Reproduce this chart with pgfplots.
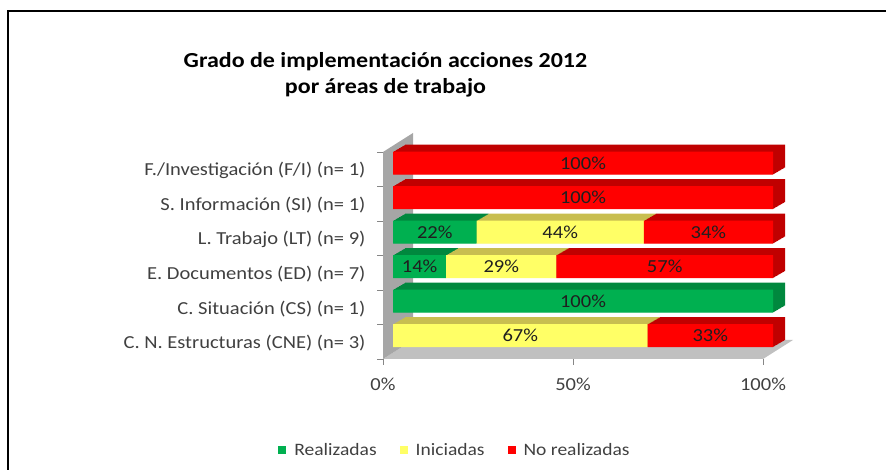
\documentclass[border=0pt]{standalone}
\usepackage{pgfplots}
\pgfplotsset{compat=1.18}
\usepackage{pgfplotstable}
\usepackage{fontspec}
\setmainfont{Carlito}[FakeStretch=1.12]
\definecolor{grn}{HTML}{00B050}
\definecolor{grntop}{HTML}{00883E}
\definecolor{ylw}{HTML}{FFFF66}
\definecolor{ylwtop}{HTML}{C8BE50}
\definecolor{rd}{HTML}{FF0000}
\definecolor{rdtop}{HTML}{C00000}
\definecolor{floorgray}{HTML}{C0C0C0}
\definecolor{wallgray}{HTML}{A6A6A6}
\definecolor{tickgray}{HTML}{868686}
\definecolor{labelgray}{HTML}{404040}
\tikzset{ext/.style={
preaction={fill=#1,transform canvas={shift={(12bp,7bp)}}},
preaction={fill=#1,transform canvas={shift={(11bp,6.417bp)}}},
preaction={fill=#1,transform canvas={shift={(10bp,5.833bp)}}},
preaction={fill=#1,transform canvas={shift={(9bp,5.25bp)}}},
preaction={fill=#1,transform canvas={shift={(8bp,4.667bp)}}},
preaction={fill=#1,transform canvas={shift={(7bp,4.083bp)}}},
preaction={fill=#1,transform canvas={shift={(6bp,3.5bp)}}},
preaction={fill=#1,transform canvas={shift={(5bp,2.917bp)}}},
preaction={fill=#1,transform canvas={shift={(4bp,2.333bp)}}},
preaction={fill=#1,transform canvas={shift={(3bp,1.75bp)}}},
preaction={fill=#1,transform canvas={shift={(2bp,1.167bp)}}},
preaction={fill=#1,transform canvas={shift={(1bp,0.583bp)}}}}}
\pgfplotsset{
leggrn/.style={legend image code/.code={\fill[grn,draw=none] (0bp,-4bp) rectangle (8bp,4bp);\path[draw=none,fill=none] (0bp,0bp) -- (14bp,0bp);}},
legylw/.style={legend image code/.code={\fill[ylw,draw=none] (0bp,-4bp) rectangle (8bp,4bp);\path[draw=none,fill=none] (0bp,0bp) -- (14bp,0bp);}},
legrd/.style={legend image code/.code={\fill[rd,draw=none] (0bp,-4bp) rectangle (8bp,4bp);\path[draw=none,fill=none] (0bp,0bp) -- (14bp,0bp);}}}
\pgfplotstableread{
idx g y r
0 0 67 33
1 100 0 0
2 14 29 57
3 22 44 34
4 0 0 100
5 0 0 100
}\datatable
\newcommand{\lblfont}{\fontsize{18.4}{21}\selectfont}
\newcommand{\legfont}{\fontsize{17.5}{20}\selectfont}
\begin{document}
\begin{tikzpicture}[x=1bp,y=1bp]
\useasboundingbox (0,0) rectangle (886,470);
\draw[line width=2.2bp] (7.7,-2) -- (7.7,459) -- (890,459);
\node[align=center,font=\bfseries\fontsize{21.5}{26}\selectfont] at (385.5,395) {Grado de implementación acciones 2012\\por áreas de trabajo};
\fill[floorgray] (383,111) -- (763,111) -- (793,130) -- (413,130) -- cycle;
\fill[wallgray] (383,111) -- (383,318) -- (413,337) -- (413,130) -- cycle;
\begin{axis}[at={(383bp,111bp)}, anchor=south west, scale only axis,
  width=380bp, height=207bp,
  xmin=0, xmax=100, ymin=-0.5, ymax=5.5,
  axis x line*=bottom, axis y line*=left, axis line style={draw=none},
  xtick={0,50,100}, xticklabels={0\%,50\%,100\%},
  ytick={-0.5,0.5,...,5.5}, yticklabels={,,,,,,},
  extra y ticks={0,1,2,3,4,5},
  extra y tick labels={C. N. Estructuras (CNE) (n= 3),C. Situación (CS) (n= 1),E. Documentos (ED) (n= 7),L. Trabajo (LT) (n= 9),S. Información (SI) (n= 1),F./Investigación (F/I) (n= 1)},
  extra y tick style={major tick length=0pt, yticklabel style={xshift=-14bp, yshift=-1.5bp}},
  tick align=outside, major tick length=6bp,
  tick style={draw=tickgray, line width=0.8bp},
  ticklabel style={font=\lblfont, text=labelgray},
  xticklabel style={yshift=-9bp}]
\addplot[draw=none] coordinates {(0,0)};
\end{axis}
\begin{axis}[at={(393bp,117bp)}, anchor=south west, scale only axis,
  width=380bp, height=207bp,
  xmin=0, xmax=100, ymin=-0.5, ymax=5.5,
  hide axis, clip=false, xbar stacked, reverse stacked plots=false, bar width=23bp,
  /pgf/number format/assume math mode=true,
  point meta=rawx,
  nodes near coords={\pgfmathfloatifflags{\pgfplotspointmeta}{0}{}{\pgfmathprintnumber{\pgfplotspointmeta}\%}},
  every node near coord/.append style={anchor=center, font=\lblfont, text=black!88},
  legend style={draw=none, fill=none, legend columns=3, font=\legfont, text=labelgray,
    at={(0.163,-0.4686)}, anchor=center,
    /tikz/every even column/.append style={column sep=21bp}}]
\addlegendimage{leggrn}\addlegendentry{Realizadas}
\addlegendimage{legylw}\addlegendentry{Iniciadas}
\addlegendimage{legrd}\addlegendentry{No realizadas}
\addplot[fill=grn, draw=none, ext=grntop] table[x=g, y=idx] {\datatable};
\addplot[fill=ylw, draw=none, ext=ylwtop] table[x=y, y=idx] {\datatable};
\addplot[fill=rd, draw=none, ext=rdtop] table[x=r, y=idx] {\datatable};
\end{axis}
\end{tikzpicture}
\end{document}
